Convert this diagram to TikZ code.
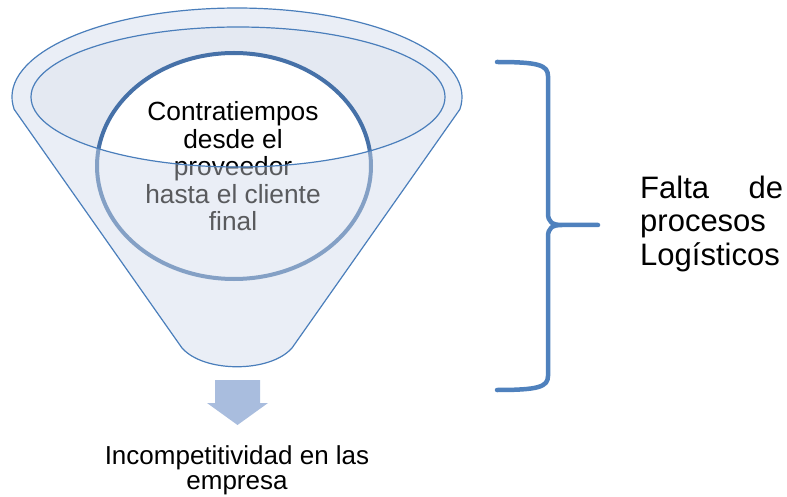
\documentclass[tikz,border=0pt]{standalone}
\usepackage{fontspec}
\setmainfont{Liberation Sans}
\usetikzlibrary{positioning}
\definecolor{funnelFill}{HTML}{EAEEF6}
\definecolor{rimFill}{HTML}{E4E9F2}
\definecolor{lineBlue}{HTML}{4A7EBB}
\definecolor{ringBlue}{HTML}{4671A8}
\definecolor{arrowBlue}{HTML}{A9BDDE}
\definecolor{braceBlue}{HTML}{4F81BD}
% outline of the funnel (top rim + cone)
\def\funnelpath{(14.2,386.6) arc[start angle=188, end angle=-8, x radius=225pt, y radius=89pt]
  -- (292,148) .. controls (270,123) and (204,123) .. (182,148) -- cycle}
\def\rimpath{(238,399) ellipse[x radius=207pt, y radius=70pt]}
\tikzset{
  funnelline/.style={draw=lineBlue, line width=1.2pt},
  ringline/.style={draw=ringBlue, line width=4pt},
  innertext/.style={font=\fontsize{26.3}{27.5}\selectfont, align=center, inner sep=0pt},
  lowtext/.style={font=\fontsize{26}{25}\selectfont, align=center, inner sep=0pt},
  sidetext/.style={font=\fontsize{31}{33.5}\selectfont, align=left, text width=143pt, inner sep=0pt},
  bracestroke/.style={draw=braceBlue, line width=4.5pt, line cap=round, line join=round},
}

\begin{document}
\begin{tikzpicture}[x=1pt, y=1pt]
  \useasboundingbox (0,0) rectangle (787,496);
  % funnel body and rim
  \fill[funnelFill] \funnelpath;
  \fill[rimFill] \rimpath;
  % circle inside the funnel
  \begin{scope}
    \clip \rimpath;
    \fill[white] (234,330) ellipse[x radius=137pt, y radius=113pt];
  \end{scope}
  \draw[ringline] (234,330) ellipse[x radius=137pt, y radius=113pt];
  \node[innertext] (contratiempos) at (233,329.5)
    {Contratiempos\\desde el\\proveedor\\hasta el cliente\\final};
  % front wall of the funnel over the circle
  \fill[funnelFill, opacity=0.38, even odd rule] \funnelpath \rimpath;
  \draw[funnelline] \funnelpath;
  \draw[funnelline] \rimpath;
  % block arrow
  \fill[arrowBlue] (215,116) -- (260,116) -- (260,93) -- (268,93) -- (237.5,71)
    -- (207,93) -- (215,93) -- cycle;
  \node[lowtext] (incompetitividad) at (237,25.5) {Incompetitividad en las\\empresa};
  % brace
  \draw[bracestroke] (497,434) .. controls (538,434) and (548,431) .. (548,420)
    -- (548,283) .. controls (548,274) and (552,271) .. (562,271) -- (598,271)
    -- (562,271) .. controls (552,271) and (548,268) .. (548,259)
    -- (548,120) .. controls (548,109) and (538,106) .. (497,106);
  \node[sidetext, anchor=west] (falta) at (640,272.5) {Falta\hfill de\\procesos\\Logísticos};
\end{tikzpicture}
\end{document}
